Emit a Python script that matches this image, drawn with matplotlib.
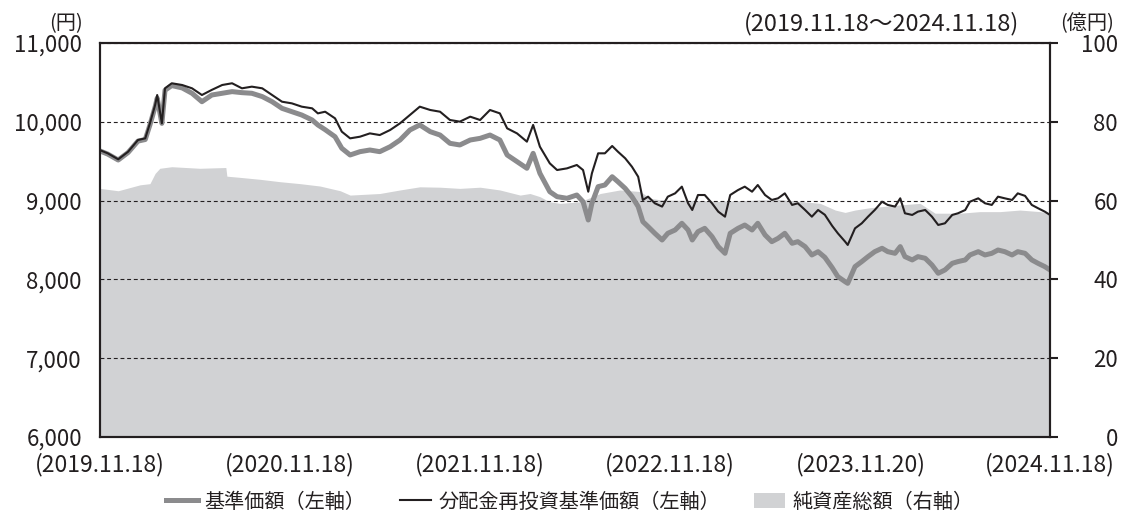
import numpy as np
import pandas as pd
import matplotlib
matplotlib.use("Agg")
import matplotlib.pyplot as plt
from matplotlib.patches import Patch
from matplotlib.lines import Line2D
from matplotlib.ticker import FuncFormatter

plt.rcParams['font.family'] = ['Noto Sans CJK JP', 'DejaVu Sans']

start = pd.Timestamp('2019-11-18')
end = pd.Timestamp('2024-11-18')

# 経過日数（2019.11.18 起点）
price_days = [
    0, 15, 35, 54, 73, 87, 96, 106, 110, 119,
    125, 138, 158, 177, 196, 215, 235, 254, 273, 292,
    312, 331, 350, 369, 388, 408, 419, 433, 452, 465,
    481, 500, 519, 538, 558, 577, 596, 615, 635, 654,
    673, 692, 712, 731, 750, 769, 783, 802, 821, 833,
    846, 865, 879, 898, 917, 929, 939, 946, 958, 971,
    985, 996, 1010, 1023, 1035, 1044, 1054, 1067, 1081, 1092,
    1106, 1119, 1131, 1139, 1150, 1163, 1177, 1189, 1202, 1212,
    1227, 1240, 1254, 1265, 1279, 1292, 1304, 1317, 1331, 1342,
    1356, 1369, 1381, 1394, 1408, 1419, 1433, 1438, 1452, 1465,
    1477, 1490, 1504, 1515, 1529, 1539, 1548, 1562, 1573, 1587,
    1600, 1612, 1625, 1639, 1650, 1664, 1673, 1689, 1702, 1715,
    1727, 1740, 1754, 1765, 1779, 1792, 1804, 1817, 1827,
]

# 分配金再投資基準価額（円）
nav_reinv = [
    9640, 9600, 9524, 9620, 9769, 9790, 9981, 10213, 10340, 9981,
    10425, 10489, 10467, 10425, 10340, 10405, 10467, 10489, 10425, 10446,
    10425, 10340, 10255, 10234, 10192, 10171, 10107, 10128, 10044, 9875,
    9790, 9811, 9853, 9832, 9896, 9981, 10086, 10192, 10150, 10128,
    10023, 10002, 10065, 10023, 10150, 10107, 9917, 9853, 9748, 9960,
    9684, 9473, 9388, 9409, 9452, 9388, 9113, 9346, 9600, 9600,
    9693, 9621, 9537, 9430, 9303, 9008, 9050, 8966, 8924, 9050,
    9092, 9177, 8966, 8881, 9071, 9071, 8966, 8860, 8796, 9071,
    9134, 9177, 9113, 9198, 9071, 9008, 9029, 9092, 8945, 8966,
    8881, 8796, 8881, 8820, 8680, 8585, 8479, 8437, 8648, 8712,
    8796, 8881, 8986, 8945, 8924, 9029, 8839, 8818, 8860, 8881,
    8796, 8691, 8712, 8818, 8839, 8881, 8986, 9029, 8966, 8945,
    9050, 9029, 9008, 9092, 9060, 8945, 8903, 8860, 8818,
]

# 基準価額（円）
nav = [
    9630, 9590, 9515, 9610, 9755, 9775, 9960, 10190, 10300, 9980,
    10400, 10460, 10430, 10362, 10255, 10340, 10362, 10383, 10370, 10362,
    10320, 10255, 10171, 10128, 10086, 10023, 9960, 9900, 9811, 9664,
    9579, 9621, 9642, 9621, 9684, 9769, 9896, 9960, 9875, 9832,
    9727, 9706, 9769, 9790, 9832, 9769, 9579, 9494, 9410, 9600,
    9346, 9113, 9050, 9029, 9071, 8986, 8754, 8966, 9177, 9198,
    9303, 9240, 9155, 9050, 8924, 8733, 8670, 8585, 8500, 8585,
    8627, 8712, 8627, 8500, 8606, 8648, 8543, 8416, 8331, 8585,
    8648, 8690, 8627, 8712, 8564, 8479, 8521, 8585, 8458, 8479,
    8416, 8310, 8352, 8280, 8150, 8035, 7971, 7950, 8162, 8226,
    8289, 8352, 8395, 8352, 8331, 8416, 8289, 8247, 8289, 8268,
    8183, 8078, 8120, 8204, 8226, 8247, 8310, 8352, 8310, 8331,
    8373, 8352, 8310, 8352, 8331, 8247, 8204, 8162, 8120,
]

asset_days = [
    0, 35, 77, 96, 106, 115, 138, 192, 242, 244,
    269, 308, 346, 385, 423, 462, 481, 538, 577, 615,
    654, 692, 731, 769, 808, 827, 846, 865, 885, 923,
    962, 1000, 1039, 1058, 1077, 1154, 1192, 1231, 1269, 1308,
    1346, 1385, 1414, 1433, 1452, 1481, 1539, 1577, 1606, 1654,
    1692, 1731, 1769, 1808, 1827,
]

# 純資産総額（億円）
assets = [
    63.1, 62.5, 64.0, 64.3, 66.9, 68.2, 68.6, 68.2, 68.4, 66.2,
    65.9, 65.4, 64.8, 64.3, 63.7, 62.5, 61.4, 61.8, 62.7, 63.5,
    63.4, 63.1, 63.4, 62.7, 61.4, 61.8, 61.0, 59.7, 59.3, 59.7,
    61.8, 62.7, 62.3, 60.6, 60.2, 60.0, 59.8, 60.0, 60.2, 60.3,
    59.8, 59.3, 57.6, 57.0, 57.6, 58.2, 58.9, 59.3, 56.8, 56.8,
    57.2, 57.2, 57.6, 57.2, 56.8,
]

tick_dates = ['2019-11-18', '2020-11-18', '2021-11-18', '2022-11-18', '2023-11-20', '2024-11-18']
tick_labels = ['(2019.11.18)', '(2020.11.18)', '(2021.11.18)', '(2022.11.18)', '(2023.11.20)', '(2024.11.18)']

INK = '#231f20'
GRAY_LINE = '#8b8b8d'
FILL = '#d1d2d4'

price_dates = start + pd.to_timedelta(price_days, unit='D')
asset_dates = start + pd.to_timedelta(asset_days, unit='D')

fig = plt.figure(figsize=(11.21, 5.20), dpi=100)
ax = fig.add_axes([100 / 1121, 1 - 437 / 520, 950 / 1121, 394 / 520])
ax2 = ax.twinx()

# 純資産総額（右軸）
ax2.fill_between(asset_dates, 0, assets, color=FILL, linewidth=0)
ax2.set_ylim(0, 100)
ax2.set_yticks(np.arange(0, 101, 20))

# 左軸の線を面より前に
ax.set_zorder(ax2.get_zorder() + 1)
ax.patch.set_visible(False)

ax.plot(price_dates, nav, color=GRAY_LINE, linewidth=3.6, solid_joinstyle='round')
ax.plot(price_dates, nav_reinv, color=INK, linewidth=1.5)

ax.set_xlim(start, end)
ax.set_ylim(6000, 11000)
ax.set_yticks(np.arange(6000, 11001, 1000))
ax.yaxis.set_major_formatter(FuncFormatter(lambda v, p: f'{int(v):,}'))
ax.set_xticks(pd.to_datetime(tick_dates))
ax.set_xticklabels(tick_labels)

ax.yaxis.grid(True, linestyle=(0, (3.5, 2.5)), color=INK, linewidth=0.8)

for a in (ax, ax2):
    for s in a.spines.values():
        s.set_linewidth(1.5)
        s.set_color(INK)

ax.tick_params(axis='y', length=0, pad=13, labelsize=16, labelcolor=INK)
ax.tick_params(axis='x', length=0, pad=11, labelsize=16.5, labelcolor=INK)
ax2.tick_params(axis='y', length=6, width=1.5, color=INK, direction='out',
                pad=43, labelsize=16, labelcolor=INK)
for lab in ax2.get_yticklabels():
    lab.set_ha('right')

fig.text(83 / 1121, 1 - 24 / 520, '(円)', ha='right', va='center', fontsize=14.5, color=INK)
fig.text(1114 / 1121, 1 - 24 / 520, '(億円)', ha='right', va='center', fontsize=14.5, color=INK)
fig.text(881 / 1121, 1 - 24 / 520, '(2019.11.18～2024.11.18)', ha='center', va='center',
         fontsize=17, color=INK)

handles = [
    Line2D([], [], color=GRAY_LINE, linewidth=3.6),
    Line2D([], [], color=INK, linewidth=1.5),
    Patch(facecolor=FILL, edgecolor='none'),
]
labels = ['基準価額（左軸）', '分配金再投資基準価額（左軸）', '純資産総額（右軸）']
fig.legend(handles, labels, loc='center', bbox_to_anchor=(570 / 1121, 1 - 502 / 520), ncol=3,
           frameon=False, fontsize=14.5, handlelength=1.55, handletextpad=0.35,
           columnspacing=1.7, labelcolor=INK)

fig.savefig('out.png', dpi=100)
